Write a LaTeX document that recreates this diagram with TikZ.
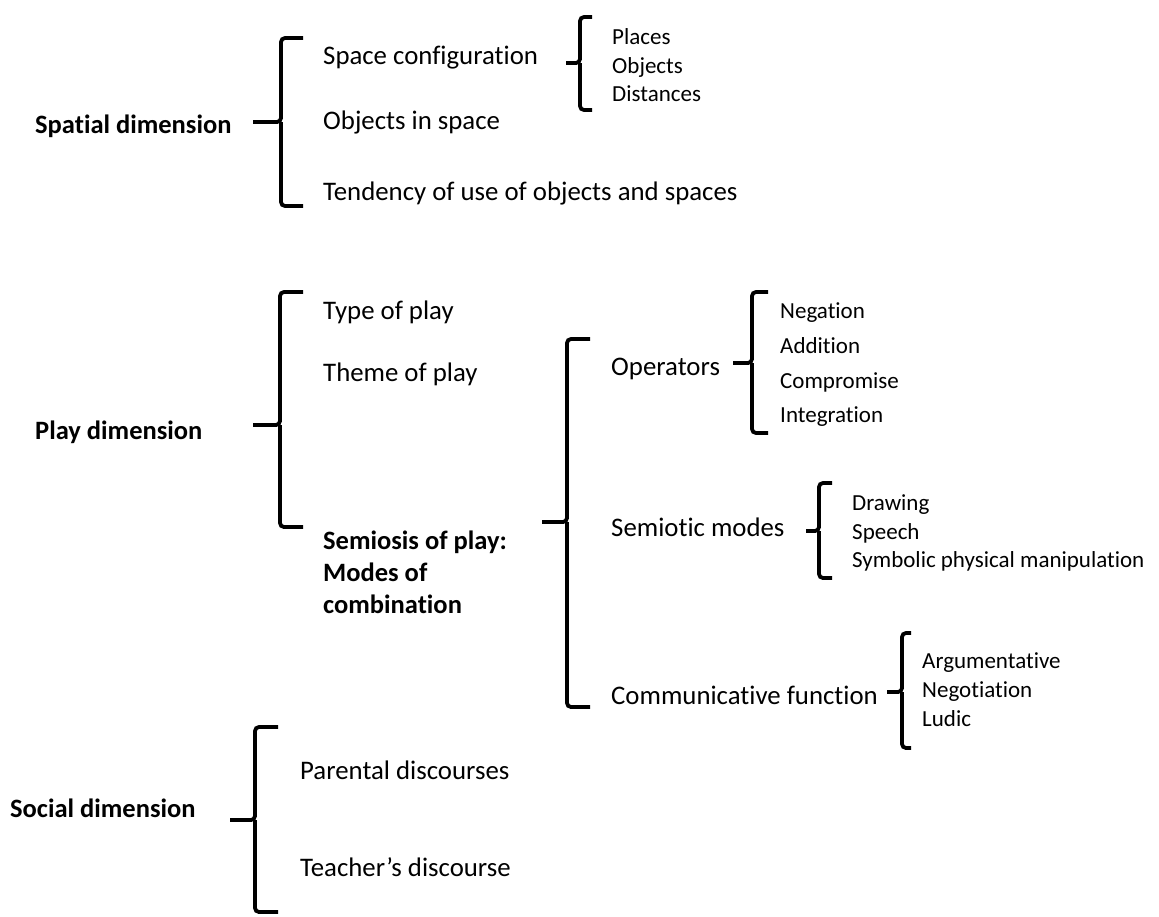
\documentclass[tikz,border=0pt]{standalone}
\usepackage{fontspec}
\setmainfont[RawFeature=-liga]{Carlito}
\begin{document}
\begin{tikzpicture}[x=1pt,y=-1pt,
  lbl/.style={anchor=west,inner sep=0pt,text height=1.5ex,text depth=0.25ex,yshift=-7pt,font=\fontsize{26.8}{32}\selectfont},
  sub/.style={anchor=west,inner sep=0pt,text height=1.5ex,text depth=0.25ex,yshift=-6pt,font=\fontsize{23}{28}\selectfont},
  dim/.style={lbl,font=\fontsize{26.5}{32}\selectfont\bfseries},
  br/.style={line width=3.8pt,rounded corners=4pt}]
\useasboundingbox (0,0) rectangle (1159,916);
% brace: X vertical, T top, M tip, B bottom, L tip left, R hook right
\newcommand\mybrace[6]{%
  \draw[br] (#6,#2) -- (#1,#2) -- (#1,#3) -- (#5,#3);
  \draw[br] (#1,#3) -- (#1,#4) -- (#6,#4);}
% Spatial
\node[dim] (spatial) at (35,124) {Spatial dimension};
\mybrace{281}{38}{122}{206}{253}{303}
\node[lbl] (spacecfg) at (323,55) {Space configuration};
\node[lbl] (objspace) at (323,120) {Objects in space};
\node[lbl] (tendency) at (323,191) {Tendency of use of objects and spaces};
\mybrace{580}{17}{63}{110}{566}{592}
\node[sub] (places) at (612,36) {Places};
\node[sub] (objects) at (612,65) {Objects};
\node[sub] (distances) at (612,93) {Distances};
% Play
\node[dim] (play) at (35,430) {Play dimension};
\mybrace{280}{292}{425}{527}{253}{303}
\node[lbl] (type) at (323,310) {Type of play};
\node[lbl] (theme) at (323,372) {Theme of play};
\node[dim,anchor=north west,text height=,text depth=,yshift=0pt,align=left] (semiosis) at (323,524) {Semiosis of play:\\Modes of\\combination};
\mybrace{567}{339}{522}{707}{542}{590}
\node[lbl] (operators) at (611,366) {Operators};
\node[lbl] (semiotic) at (611,527) {Semiotic modes};
\node[lbl] (commf) at (611,695) {Communicative function};
\mybrace{752}{292}{363}{433}{733}{768}
\node[sub] (negation) at (780,310) {Negation};
\node[sub] (addition) at (780,345) {Addition};
\node[sub] (compromise) at (780,380) {Compromise};
\node[sub] (integration) at (780,414) {Integration};
\mybrace{819}{483}{531}{578}{806}{832}
\node[sub] (drawing) at (852,502) {Drawing};
\node[sub] (speech) at (852,531) {Speech};
\node[sub] (symbolic) at (852,559) {Symbolic physical manipulation};
\mybrace{902}{633}{692}{748}{887}{911}
\node[sub] (argum) at (922,660) {Argumentative};
\node[sub] (negot) at (922,689) {Negotiation};
\node[sub] (ludic) at (922,718) {Ludic};
% Social
\node[dim] (social) at (10,808) {Social dimension};
\mybrace{255}{727}{820}{912}{230}{278}
\node[lbl] (parental) at (300,770) {Parental discourses};
\node[lbl] (teacher) at (300,867) {Teacher’s discourse};
\end{tikzpicture}
\end{document}
